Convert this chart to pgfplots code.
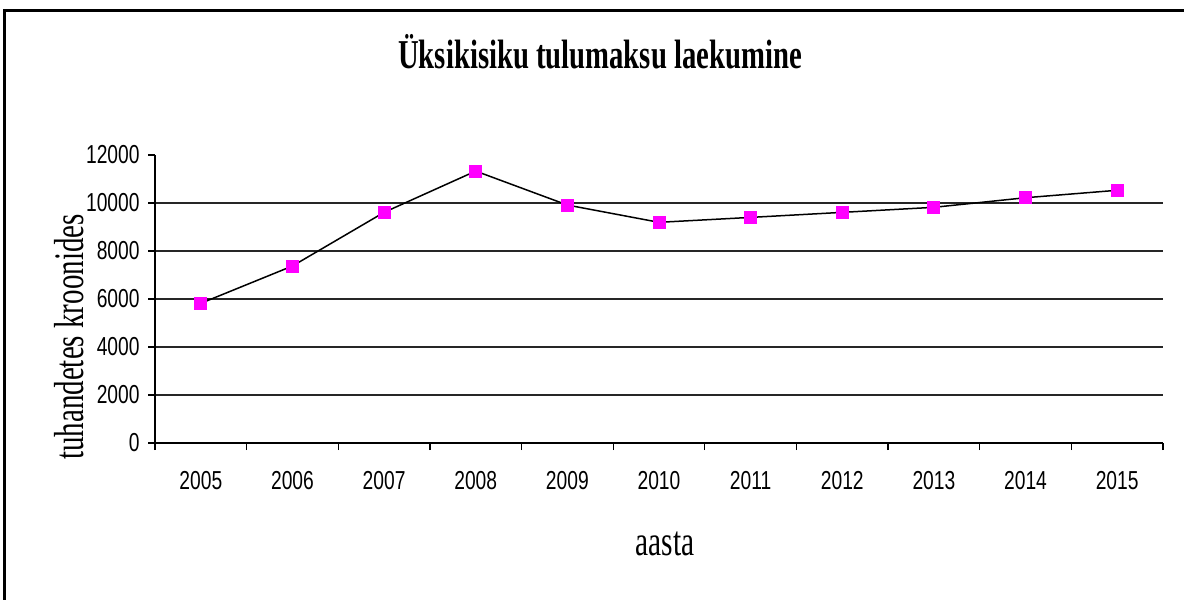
\documentclass[border=0pt]{standalone}
\usepackage{fontspec}
\setmainfont{Liberation Serif}
\newfontfamily\titlefont[FakeStretch=0.7]{Liberation Serif}
\newfontfamily\labelfont[FakeStretch=0.7]{Liberation Serif}
\newfontfamily\ylabelfont[FakeStretch=0.69]{Liberation Serif}
\newfontfamily\tickfont[FakeStretch=0.74]{Liberation Sans}
\usepackage{pgfplots}
\pgfplotsset{compat=1.18}
\definecolor{mag}{RGB}{255,0,255}
\begin{document}
\begin{tikzpicture}
\useasboundingbox (0,0) rectangle (592pt,300pt);
\draw[line width=1.5pt] (2pt,0pt) -- (2pt,294.5pt) -- (600pt,294.5pt);
\begin{axis}[
  at={(77.5pt,78.5pt)}, anchor=south west,
  scale only axis, width=504pt, height=144pt,
  xmin=-0.5, xmax=10.5, ymin=0, ymax=12000,
  axis x line*=bottom, axis y line*=left,
  axis line style={line width=0.8pt, black},
  xtick={0,...,10},
  xticklabels={2005,2006,2007,2008,2009,2010,2011,2012,2013,2014,2015},
  minor xtick={-0.5,0.5,...,10.5},
  major x tick style={draw=none},
  minor x tick style={line width=0.6pt, black},
  minor tick length=3.5pt,
  major tick length=3.5pt,
  tick align=outside,
  ytick={0,2000,4000,6000,8000,10000},
  extra y ticks={12000},
  extra y tick style={grid=none},
  scaled y ticks=false,
  ymajorgrids,
  major grid style={line width=0.6pt, black!85},
  y tick style={line width=0.6pt, black},
  /pgf/number format/1000 sep={},
  /pgf/number format/assume math mode=true,
  ticklabel style={font=\tickfont\fontsize{13}{15}\selectfont},
  yticklabel style={anchor=east, inner sep=0pt, xshift=-4pt},
  xticklabel style={anchor=base, inner sep=0pt, yshift=-19.5pt},
  title={Üksikisiku tulumaksu laekumine},
  title style={at={(axis description cs:0.4415,1.302)}, anchor=base, yshift=-6pt, font=\titlefont\bfseries\fontsize{20.5}{24}\selectfont},
  xlabel={aasta},
  xlabel style={at={(axis description cs:0.506,-0.392)}, anchor=base, font=\labelfont\fontsize{21}{24}\selectfont},
  ylabel={tuhandetes kroonides},
  ylabel style={at={(axis description cs:-0.0714,0.368)}, anchor=base, font=\ylabelfont\fontsize{21}{24}\selectfont},
  clip=false,
]
\addplot[black, line width=0.75pt, mark=square*, mark size=3pt,
  mark options={fill=mag, draw=mag, line width=0pt}]
  coordinates {(0,5820) (1,7375) (2,9610) (3,11330) (4,9915) (5,9195)
               (6,9400) (7,9610) (8,9820) (9,10220) (10,10530)};
\end{axis}
\end{tikzpicture}
\end{document}
